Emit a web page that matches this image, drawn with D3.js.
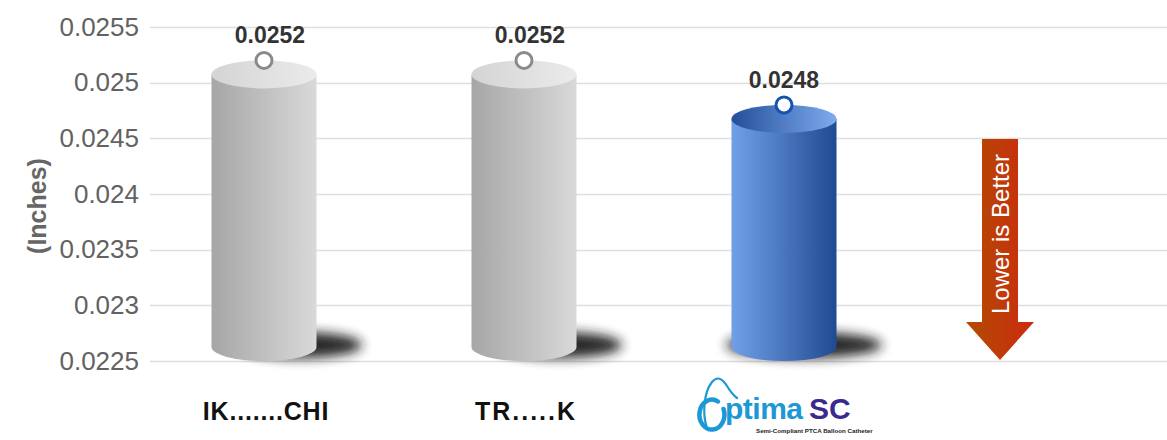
<!DOCTYPE html>
<html>
<head>
<meta charset="utf-8">
<script src="https://cdn.jsdelivr.net/npm/d3@7/dist/d3.min.js"></script>
<style>
  html, body { margin: 0; padding: 0; background: #fff; }
  svg { display: block; font-family: "Liberation Sans", Arial, sans-serif; }
</style>
</head>
<body>
<svg id="chart" width="1167" height="440"></svg>
<script>
// Balloon crossing profile, in inches
const categories = ["IK.......CHI", "TR.....K", "Optima SC"];
const values = [0.0252, 0.0252, 0.0248];
const valueLabels = ["0.0252", "0.0252", "0.0248"];
const yTicks = [0.0225, 0.023, 0.0235, 0.024, 0.0245, 0.025, 0.0255];
const yTickLabels = ["0.0225", "0.023", "0.0235", "0.024", "0.0245", "0.025", "0.0255"];
const barStyles = ["gray", "gray", "blue"];

const svg = d3.select("#chart");
const W = 1167, H = 440;

const y = d3.scaleLinear().domain([0.0225, 0.0255]).range([361, 27]);
const x = d3.scaleBand().domain([...categories, "note"]).range([134, 1174]);

const defs = svg.append("defs");
function linGrad(id, stops, x1 = "0%", x2 = "100%", y1 = "0%", y2 = "0%") {
  const g = defs.append("linearGradient").attr("id", id)
    .attr("x1", x1).attr("x2", x2).attr("y1", y1).attr("y2", y2);
  stops.forEach(([o, c]) => g.append("stop").attr("offset", o).attr("stop-color", c));
}
linGrad("grayBody", [["0%", "#a6a6a6"], ["100%", "#d9d9d9"]]);
linGrad("grayTop", [["0%", "#d4d4d4"], ["100%", "#ebebeb"]]);
linGrad("blueBody", [["0%", "#72a0e8"], ["100%", "#1f4b92"]]);
linGrad("blueTop", [["0%", "#24509a"], ["100%", "#7eaaee"]]);
linGrad("arrowGrad", [["0%", "#b24c02"], ["100%", "#cc2a10"]]);
defs.append("filter").attr("id", "shadowBlur")
  .attr("x", "-50%").attr("y", "-100%").attr("width", "200%").attr("height", "300%")
  .append("feGaussianBlur").attr("stdDeviation", 6);

// Gridlines
svg.append("g").selectAll("line").data(yTicks).join("line")
  .attr("x1", 150).attr("x2", W)
  .attr("y1", d => Math.round(y(d)) + 0.5).attr("y2", d => Math.round(y(d)) + 0.5)
  .attr("stroke", "#dedede").attr("stroke-width", 1.5);

// Y axis labels
const yAxis = d3.axisLeft(y).tickValues(yTicks)
  .tickFormat((d, i) => yTickLabels[i]).tickSize(0).tickPadding(0);
const ya = svg.append("g").attr("transform", "translate(139,0)").call(yAxis);
ya.select(".domain").remove();
ya.selectAll("text").attr("font-size", 26).attr("fill", "#626262")
  .attr("font-family", "'Liberation Sans', Arial, sans-serif");

svg.append("text")
  .attr("transform", "translate(46,206) rotate(-90)")
  .attr("text-anchor", "middle")
  .attr("font-size", 25).attr("font-weight", "bold").attr("fill", "#666")
  .text("(Inches)");

// Cylinders
const cylW = 105, ry = 14;
const base = y(0.0225);
const bars = svg.append("g").selectAll("g").data(categories).join("g");

bars.each(function (c, i) {
  const g = d3.select(this);
  const cx = x(c) + x.bandwidth() / 2;
  const top = y(values[i]);
  const rx = cylW / 2;
  const topC = top + ry;
  const botC = base - ry;
  const isBlue = barStyles[i] === "blue";

  // soft ground shadow
  g.append("ellipse")
    .attr("cx", cx + (isBlue ? 20 : 36)).attr("cy", botC - 2)
    .attr("rx", isBlue ? 78 : 62).attr("ry", 13)
    .attr("fill", "#1a1a1a").attr("opacity", 0.95)
    .attr("filter", "url(#shadowBlur)");

  // body
  g.append("path")
    .attr("d", `M${cx - rx},${topC} L${cx - rx},${botC} A${rx},${ry} 0 0 0 ${cx + rx},${botC} L${cx + rx},${topC} Z`)
    .attr("fill", isBlue ? "url(#blueBody)" : "url(#grayBody)");

  // lid
  g.append("ellipse")
    .attr("cx", cx).attr("cy", topC).attr("rx", rx).attr("ry", ry)
    .attr("fill", isBlue ? "url(#blueTop)" : "url(#grayTop)");

  // marker
  g.append("circle")
    .attr("cx", cx).attr("cy", top).attr("r", 8)
    .attr("fill", "#fff")
    .attr("stroke", isBlue ? "#1553b0" : "#8a8a8a").attr("stroke-width", 3);

  // value label
  g.append("text")
    .attr("x", cx + (isBlue ? 0 : 6)).attr("y", top - 17)
    .attr("text-anchor", "middle")
    .attr("font-size", 23).attr("font-weight", "bold").attr("fill", "#333")
    .text(valueLabels[i]);
});

// Category labels (the third is drawn as the product logo)
categories.slice(0, 2).forEach((c, i) => {
  svg.append("text")
    .attr("x", x(c) + x.bandwidth() / 2 + 2).attr("y", 420)
    .attr("text-anchor", "middle")
    .attr("font-size", 25).attr("font-weight", "bold").attr("fill", "#111")
    .attr("letter-spacing", i === 0 ? 0.8 : 2)
    .text(c);
});

// Optima SC logo
const logo = svg.append("g").attr("transform", `translate(${x(categories[2]) + x.bandwidth() / 2 - 84},0)`);
// thick open ring of the "O", gap at upper right
logo.append("path")
  .attr("d", "M18,401.5 A12.5,15 0 1 0 23.5,409")
  .attr("fill", "none").attr("stroke", "#1b98d5").attr("stroke-width", 4.5)
  .attr("stroke-linecap", "round");
// thin swoosh rising over the ring
logo.append("path")
  .attr("d", "M7,428 C2,414 4,392 12,382 C17,376 22,378 27,386 C30,391 33,395 37,398")
  .attr("fill", "none").attr("stroke", "#1b98d5").attr("stroke-width", 2.2)
  .attr("stroke-linecap", "round");
logo.append("text")
  .attr("x", 25).attr("y", 419)
  .attr("font-size", 30).attr("font-weight", "bold").attr("fill", "#1b98d5")
  .attr("letter-spacing", -0.5)
  .text("ptima");
logo.append("text")
  .attr("x", 109).attr("y", 419)
  .attr("font-size", 30).attr("font-weight", "bold").attr("fill", "#3b2a8e")
  .text("SC");
logo.append("text")
  .attr("x", 56).attr("y", 433)
  .attr("font-size", 6.2).attr("font-weight", "bold").attr("fill", "#222")
  .text("Semi-Compliant PTCA Balloon Catheter");

// "Lower is Better" arrow
const ax = 1000;
svg.append("path")
  .attr("d", `M${ax - 18},139 L${ax + 18},139 L${ax + 18},322 L${ax + 34},322 L${ax},360 L${ax - 34},322 L${ax - 18},322 Z`)
  .attr("fill", "url(#arrowGrad)");
svg.append("text")
  .attr("transform", `translate(${ax + 9},234) rotate(-90)`)
  .attr("text-anchor", "middle")
  .attr("font-size", 24).attr("fill", "#fff")
  .text("Lower is Better");
</script>
</body>
</html>
